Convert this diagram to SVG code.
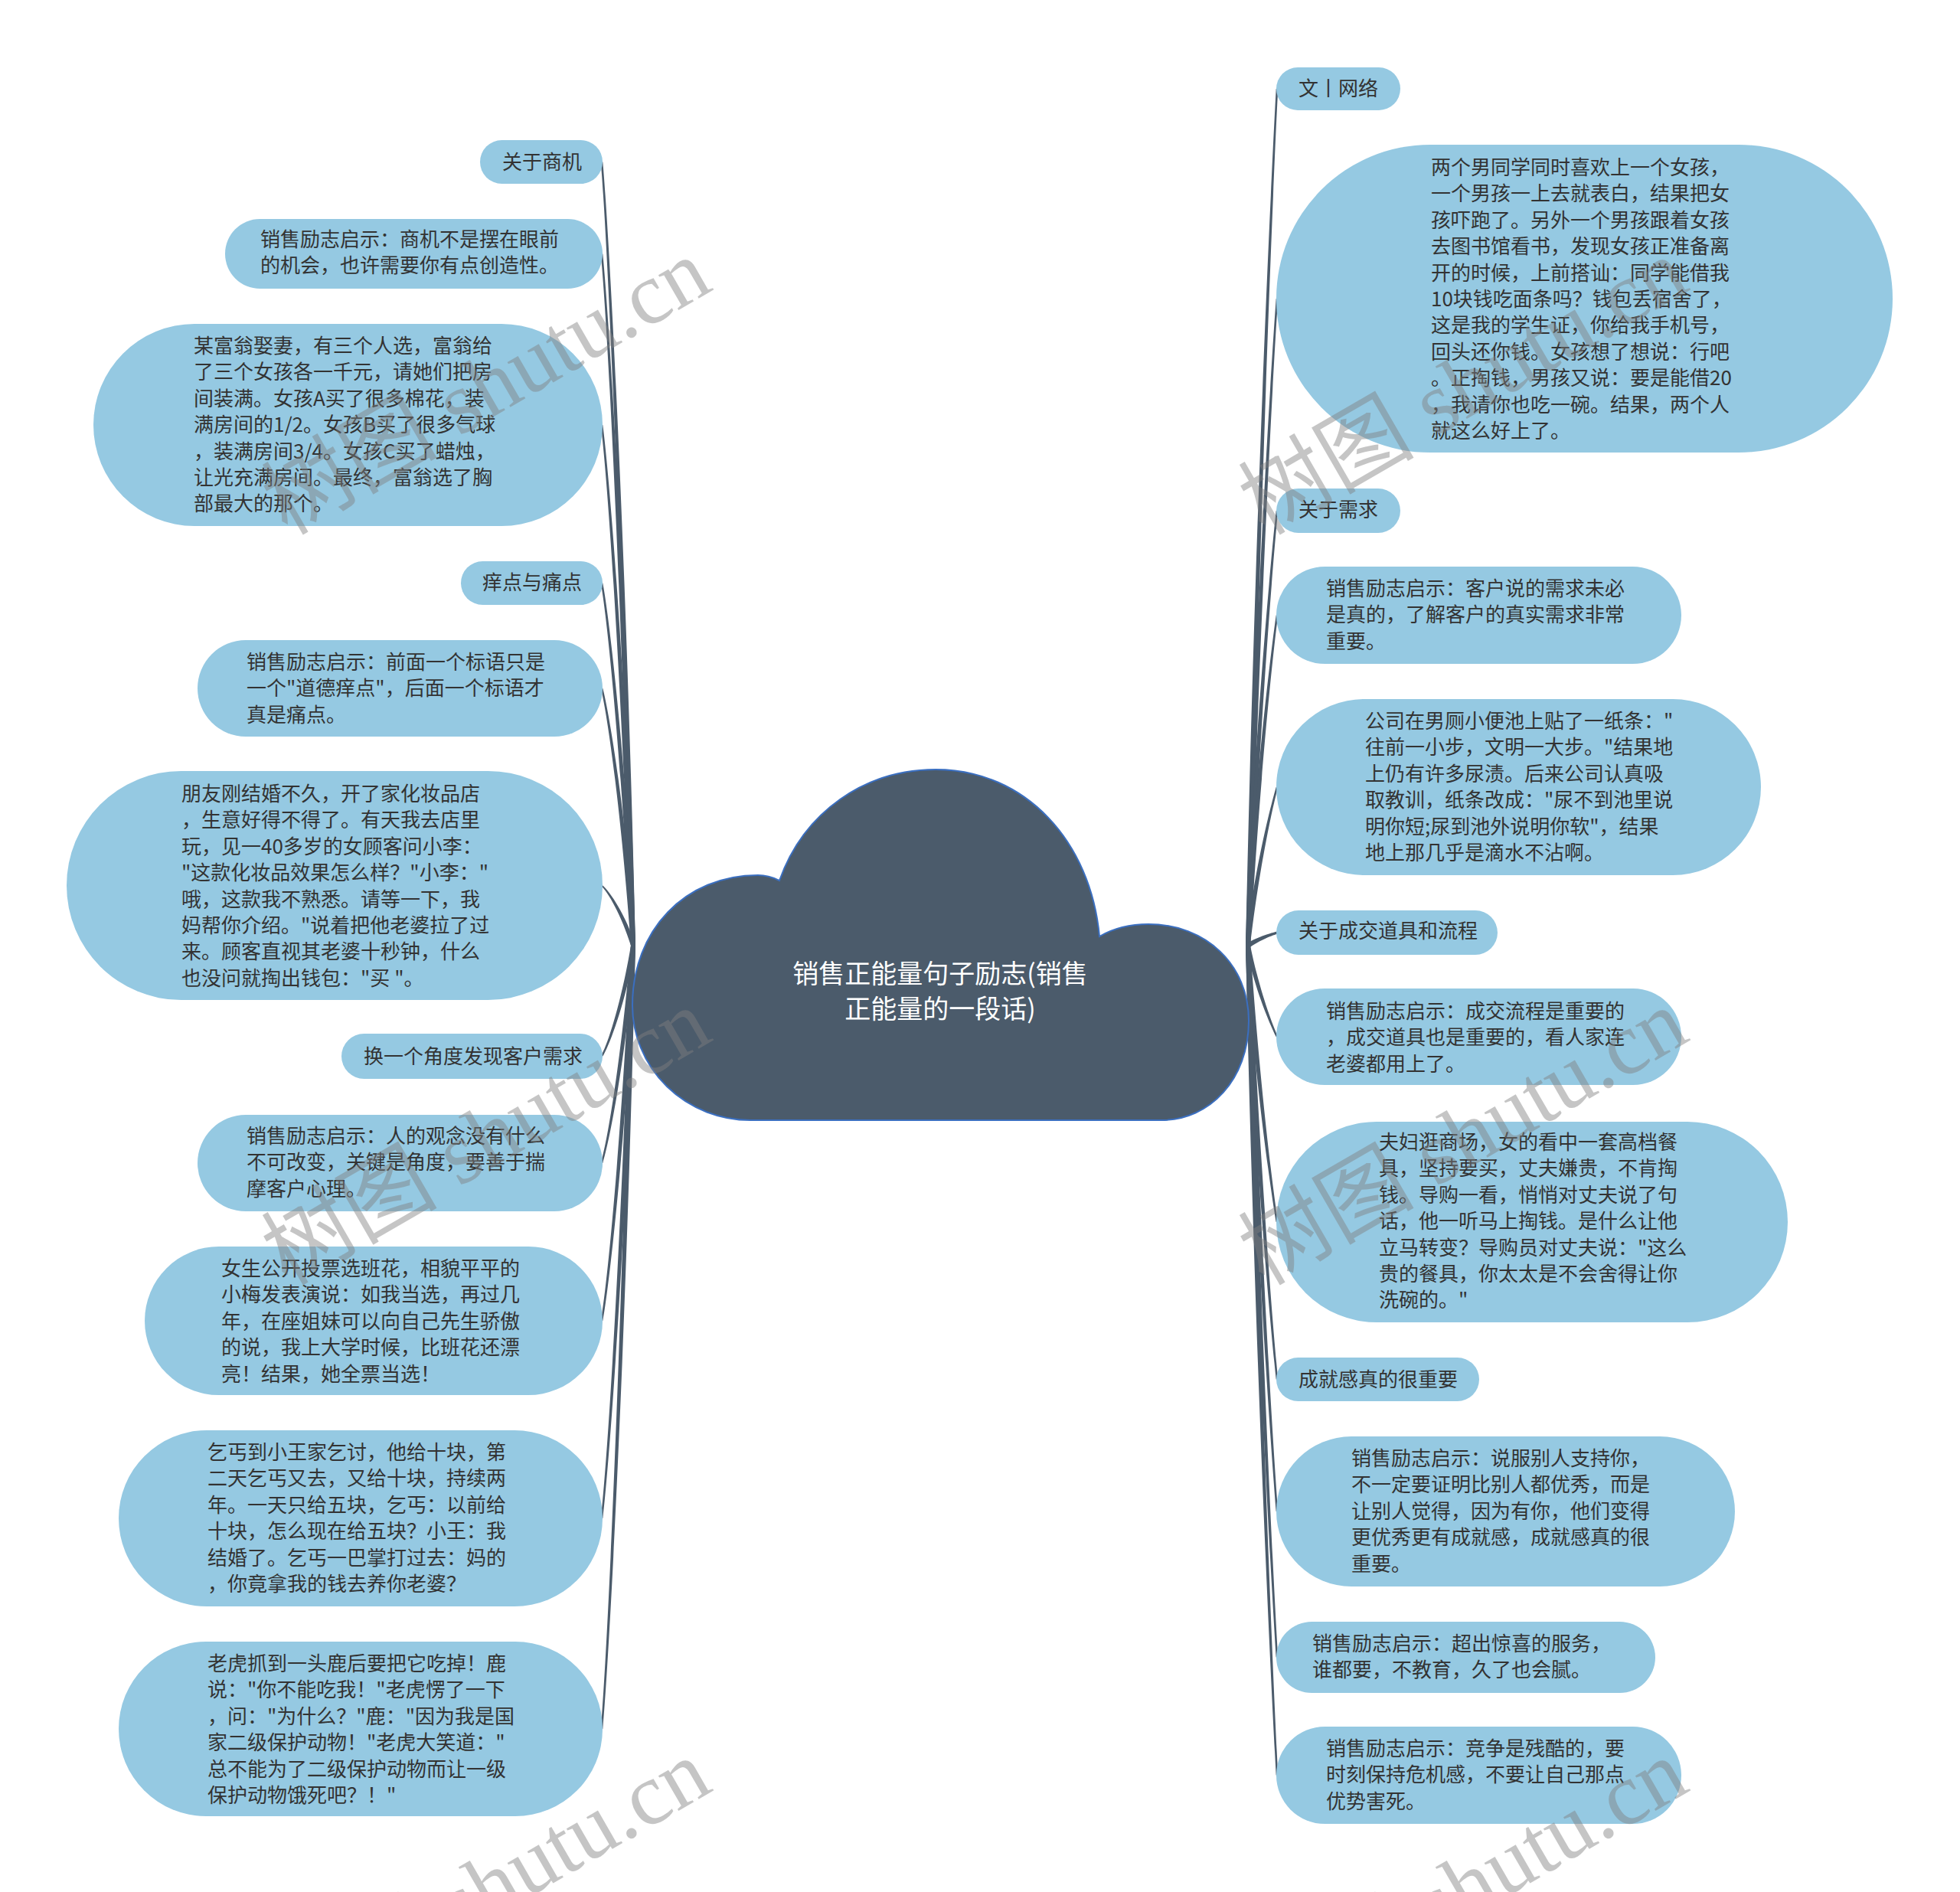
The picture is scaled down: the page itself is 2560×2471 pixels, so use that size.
<svg xmlns="http://www.w3.org/2000/svg" width="2560" height="2471" viewBox="0 0 2560 2471">
<style>
.node{fill:#95c9e2}
.t{font-family:"Noto Sans CJK SC","Microsoft YaHei",sans-serif;font-size:26px;fill:#333333}
.conn path{fill:#4b5b6b}
.ct{font-family:"Noto Sans CJK SC","Microsoft YaHei",sans-serif;font-size:34px;fill:#ffffff;text-anchor:middle}
.wm{font-family:"Liberation Serif","Noto Sans CJK SC",serif;font-size:115px;fill:#808080;opacity:0.45}
</style>
<rect width="2560" height="2471" fill="#ffffff"/>
<g class="conn" id="connectors">
<path d="M824,1235 C812,723 793.7,314 784.7,211.5 L787.3,211.5 C796.3,314 818,723 830,1235 Z"/>
<path d="M824,1235 C812,783 793.7,422 784.7,331.5 L787.3,331.5 C796.3,422 818,783 830,1235 Z"/>
<path d="M824,1235 C812,895 793.7,623 784.7,555 L787.3,555 C796.3,623 818,895 830,1235 Z"/>
<path d="M824,1235 C812,998 793.7,809 784.7,761.5 L787.3,761.5 C796.3,809 818,998 830,1235 Z"/>
<path d="M824,1235 C812,1067 793.7,933 784.7,899 L787.3,899 C796.3,933 818,1067 830,1235 Z"/>
<path d="M824,1235 C812,1196 793.7,1164 784.7,1156.5 L787.3,1156.5 C796.3,1164 818,1196 830,1235 Z"/>
<path d="M824,1235 C812,1307 793.7,1365 784.7,1379.5 L787.3,1379.5 C796.3,1365 818,1307 830,1235 Z"/>
<path d="M824,1235 C812,1377 793.7,1491 784.7,1519 L787.3,1519 C796.3,1491 818,1377 830,1235 Z"/>
<path d="M824,1235 C812,1480 793.7,1676 784.7,1725 L787.3,1725 C796.3,1676 818,1480 830,1235 Z"/>
<path d="M824,1235 C812,1609 793.7,1908 784.7,1983 L787.3,1983 C796.3,1908 818,1609 830,1235 Z"/>
<path d="M824,1235 C812,1746 793.7,2156 784.7,2258 L787.3,2258 C796.3,2156 818,1746 830,1235 Z"/>
<path d="M1633,1235 C1645,675 1663.3,228 1669.3,116 L1666.7,116 C1660.7,228 1639,675 1627,1235 Z"/>
<path d="M1633,1235 C1645,812 1663.3,474 1669.3,390 L1666.7,390 C1660.7,474 1639,812 1627,1235 Z"/>
<path d="M1633,1235 C1645,951 1663.3,724 1669.3,667 L1666.7,667 C1660.7,724 1639,951 1627,1235 Z"/>
<path d="M1633,1235 C1645,1019 1663.3,847 1669.3,803.5 L1666.7,803.5 C1660.7,847 1639,1019 1627,1235 Z"/>
<path d="M1633,1235 C1645,1131 1663.3,1049 1669.3,1028 L1666.7,1028 C1660.7,1049 1639,1131 1627,1235 Z"/>
<path d="M1633,1237 C1645,1228 1663.3,1221 1669.3,1219.5 L1668.7,1216.5 C1660.7,1218 1639,1225 1627,1233 Z"/>
<path d="M1633,1235 C1645,1294 1663.3,1342 1669.3,1354 L1666.7,1354 C1660.7,1342 1639,1294 1627,1235 Z"/>
<path d="M1633,1235 C1645,1415 1663.3,1560 1669.3,1596 L1666.7,1596 C1660.7,1560 1639,1415 1627,1235 Z"/>
<path d="M1633,1235 C1645,1518 1663.3,1745 1669.3,1801.5 L1666.7,1801.5 C1660.7,1745 1639,1518 1627,1235 Z"/>
<path d="M1633,1235 C1645,1604 1663.3,1900 1669.3,1974 L1666.7,1974 C1660.7,1900 1639,1604 1627,1235 Z"/>
<path d="M1633,1235 C1645,1700 1663.3,2071 1669.3,2164.5 L1666.7,2164.5 C1660.7,2071 1639,1700 1627,1235 Z"/>
<path d="M1633,1235 C1645,1777 1663.3,2210 1669.3,2318.5 L1666.7,2318.5 C1660.7,2210 1639,1777 1627,1235 Z"/>
</g>
<g id="root">
<path d="M980,1463 A154,150 0 0 1 826,1313 C826,1215 895,1143 990,1143 C1000,1143 1010,1146 1018,1150 C1050,1060 1130,1005 1222,1005 C1340,1005 1425,1100 1436,1223 C1455,1212 1478,1207 1500,1207 C1575,1207 1631,1260 1631,1333 C1631,1410 1580,1463 1517,1463 Z" fill="#4b5b6b" stroke="#3b6fc0" stroke-width="2"/>
<text class="ct" x="1228" y="1284">销售正能量句子励志(销售</text>
<text class="ct" x="1228" y="1330">正能量的一段话)</text>
</g>
<g id="n1"><rect class="node" x="627" y="183" width="160" height="57" rx="28.5"/><text class="t" x="656" y="221">关于商机</text></g>
<g id="n2"><rect class="node" x="294" y="286" width="493" height="91" rx="45.5"/><text class="t" x="340" y="322"><tspan x="340">销售励志启示：商机不是摆在眼前</tspan><tspan x="340" dy="34.4">的机会，也许需要你有点创造性。</tspan></text></g>
<g id="n3"><rect class="node" x="122" y="423" width="665" height="264" rx="132"/><text class="t" x="253" y="461"><tspan x="253">某富翁娶妻，有三个人选，富翁给</tspan><tspan x="253" dy="34.4">了三个女孩各一千元，请她们把房</tspan><tspan x="253" dy="34.4">间装满。女孩A买了很多棉花，装</tspan><tspan x="253" dy="34.4">满房间的1/2。女孩B买了很多气球</tspan><tspan x="253" dy="34.4">，装满房间3/4。女孩C买了蜡烛，</tspan><tspan x="253" dy="34.4">让光充满房间。最终，富翁选了胸</tspan><tspan x="253" dy="34.4">部最大的那个。</tspan></text></g>
<g id="n4"><rect class="node" x="602" y="733" width="185" height="57" rx="28.5"/><text class="t" x="630" y="770">痒点与痛点</text></g>
<g id="n5"><rect class="node" x="258" y="836" width="529" height="126" rx="63"/><text class="t" x="322" y="874"><tspan x="322">销售励志启示：前面一个标语只是</tspan><tspan x="322" dy="34.4">一个"道德痒点"，后面一个标语才</tspan><tspan x="322" dy="34.4">真是痛点。</tspan></text></g>
<g id="n6"><rect class="node" x="87" y="1007" width="700" height="299" rx="149.5"/><text class="t" x="237" y="1046"><tspan x="237">朋友刚结婚不久，开了家化妆品店</tspan><tspan x="237" dy="34.4">，生意好得不得了。有天我去店里</tspan><tspan x="237" dy="34.4">玩，见一40多岁的女顾客问小李：</tspan><tspan x="237" dy="34.4">"这款化妆品效果怎么样？"小李："</tspan><tspan x="237" dy="34.4">哦，这款我不熟悉。请等一下，我</tspan><tspan x="237" dy="34.4">妈帮你介绍。"说着把他老婆拉了过</tspan><tspan x="237" dy="34.4">来。顾客直视其老婆十秒钟，什么</tspan><tspan x="237" dy="34.4">也没问就掏出钱包："买 "。</tspan></text></g>
<g id="n7"><rect class="node" x="446" y="1350" width="341" height="59" rx="29.5"/><text class="t" x="475" y="1389">换一个角度发现客户需求</text></g>
<g id="n8"><rect class="node" x="258" y="1456" width="529" height="126" rx="63"/><text class="t" x="322" y="1493"><tspan x="322">销售励志启示：人的观念没有什么</tspan><tspan x="322" dy="34.4">不可改变，关键是角度，要善于揣</tspan><tspan x="322" dy="34.4">摩客户心理。</tspan></text></g>
<g id="n9"><rect class="node" x="189" y="1628" width="598" height="194" rx="97"/><text class="t" x="289" y="1666"><tspan x="289">女生公开投票选班花，相貌平平的</tspan><tspan x="289" dy="34.4">小梅发表演说：如我当选，再过几</tspan><tspan x="289" dy="34.4">年，在座姐妹可以向自己先生骄傲</tspan><tspan x="289" dy="34.4">的说，我上大学时候，比班花还漂</tspan><tspan x="289" dy="34.4">亮！结果，她全票当选！</tspan></text></g>
<g id="n10"><rect class="node" x="155" y="1868" width="632" height="230" rx="115"/><text class="t" x="271" y="1906"><tspan x="271">乞丐到小王家乞讨，他给十块，第</tspan><tspan x="271" dy="34.4">二天乞丐又去，又给十块，持续两</tspan><tspan x="271" dy="34.4">年。一天只给五块，乞丐：以前给</tspan><tspan x="271" dy="34.4">十块，怎么现在给五块？小王：我</tspan><tspan x="271" dy="34.4">结婚了。乞丐一巴掌打过去：妈的</tspan><tspan x="271" dy="34.4">，你竟拿我的钱去养你老婆？</tspan></text></g>
<g id="n11"><rect class="node" x="155" y="2144" width="632" height="228" rx="114"/><text class="t" x="271" y="2182"><tspan x="271">老虎抓到一头鹿后要把它吃掉！鹿</tspan><tspan x="271" dy="34.4">说："你不能吃我！"老虎愣了一下</tspan><tspan x="271" dy="34.4">，问："为什么？"鹿："因为我是国</tspan><tspan x="271" dy="34.4">家二级保护动物！"老虎大笑道："</tspan><tspan x="271" dy="34.4">总不能为了二级保护动物而让一级</tspan><tspan x="271" dy="34.4">保护动物饿死吧？！"</tspan></text></g>
<g id="r1"><rect class="node" x="1667" y="88" width="162" height="56" rx="28"/><text class="t" x="1696" y="125">文丨网络</text></g>
<g id="r2"><rect class="node" x="1667" y="189" width="805" height="402" rx="201"/><text class="t" x="1869" y="228"><tspan x="1869">两个男同学同时喜欢上一个女孩，</tspan><tspan x="1869" dy="34.4">一个男孩一上去就表白，结果把女</tspan><tspan x="1869" dy="34.4">孩吓跑了。另外一个男孩跟着女孩</tspan><tspan x="1869" dy="34.4">去图书馆看书，发现女孩正准备离</tspan><tspan x="1869" dy="34.4">开的时候，上前搭讪：同学能借我</tspan><tspan x="1869" dy="34.4">10块钱吃面条吗？钱包丢宿舍了，</tspan><tspan x="1869" dy="34.4">这是我的学生证，你给我手机号，</tspan><tspan x="1869" dy="34.4">回头还你钱。女孩想了想说：行吧</tspan><tspan x="1869" dy="34.4">。正掏钱，男孩又说：要是能借20</tspan><tspan x="1869" dy="34.4">，我请你也吃一碗。结果，两个人</tspan><tspan x="1869" dy="34.4">就这么好上了。</tspan></text></g>
<g id="r3"><rect class="node" x="1667" y="638" width="162" height="58" rx="29"/><text class="t" x="1696" y="675">关于需求</text></g>
<g id="r4"><rect class="node" x="1667" y="740" width="529" height="127" rx="63.5"/><text class="t" x="1732" y="778"><tspan x="1732">销售励志启示：客户说的需求未必</tspan><tspan x="1732" dy="34.4">是真的，了解客户的真实需求非常</tspan><tspan x="1732" dy="34.4">重要。</tspan></text></g>
<g id="r5"><rect class="node" x="1667" y="913" width="633" height="230" rx="115"/><text class="t" x="1783" y="951"><tspan x="1783">公司在男厕小便池上贴了一纸条："</tspan><tspan x="1783" dy="34.4">往前一小步，文明一大步。"结果地</tspan><tspan x="1783" dy="34.4">上仍有许多尿渍。后来公司认真吸</tspan><tspan x="1783" dy="34.4">取教训，纸条改成："尿不到池里说</tspan><tspan x="1783" dy="34.4">明你短;尿到池外说明你软"，结果</tspan><tspan x="1783" dy="34.4">地上那几乎是滴水不沾啊。</tspan></text></g>
<g id="r6"><rect class="node" x="1667" y="1189" width="289" height="58" rx="29"/><text class="t" x="1696" y="1225">关于成交道具和流程</text></g>
<g id="r7"><rect class="node" x="1667" y="1291" width="529" height="126" rx="63"/><text class="t" x="1732" y="1330"><tspan x="1732">销售励志启示：成交流程是重要的</tspan><tspan x="1732" dy="34.4">，成交道具也是重要的，看人家连</tspan><tspan x="1732" dy="34.4">老婆都用上了。</tspan></text></g>
<g id="r8"><rect class="node" x="1667" y="1465" width="668" height="262" rx="131"/><text class="t" x="1801" y="1501"><tspan x="1801">夫妇逛商场，女的看中一套高档餐</tspan><tspan x="1801" dy="34.4">具，坚持要买，丈夫嫌贵，不肯掏</tspan><tspan x="1801" dy="34.4">钱。导购一看，悄悄对丈夫说了句</tspan><tspan x="1801" dy="34.4">话，他一听马上掏钱。是什么让他</tspan><tspan x="1801" dy="34.4">立马转变？导购员对丈夫说："这么</tspan><tspan x="1801" dy="34.4">贵的餐具，你太太是不会舍得让你</tspan><tspan x="1801" dy="34.4">洗碗的。"</tspan></text></g>
<g id="r9"><rect class="node" x="1667" y="1773" width="265" height="57" rx="28.5"/><text class="t" x="1696" y="1811">成就感真的很重要</text></g>
<g id="r10"><rect class="node" x="1667" y="1876" width="599" height="196" rx="98"/><text class="t" x="1765" y="1914"><tspan x="1765">销售励志启示：说服别人支持你，</tspan><tspan x="1765" dy="34.4">不一定要证明比别人都优秀，而是</tspan><tspan x="1765" dy="34.4">让别人觉得，因为有你，他们变得</tspan><tspan x="1765" dy="34.4">更优秀更有成就感，成就感真的很</tspan><tspan x="1765" dy="34.4">重要。</tspan></text></g>
<g id="r11"><rect class="node" x="1667" y="2118" width="495" height="93" rx="46.5"/><text class="t" x="1714" y="2156"><tspan x="1714">销售励志启示：超出惊喜的服务，</tspan><tspan x="1714" dy="34.4">谁都要，不教育，久了也会腻。</tspan></text></g>
<g id="r12"><rect class="node" x="1667" y="2255" width="529" height="127" rx="63.5"/><text class="t" x="1732" y="2293"><tspan x="1732">销售励志启示：竞争是残酷的，要</tspan><tspan x="1732" dy="34.4">时刻保持危机感，不要让自己那点</tspan><tspan x="1732" dy="34.4">优势害死。</tspan></text></g>
<g id="watermarks">
<text class="wm" x="375" y="700" transform="rotate(-30 375 700)">树图 shutu.cn</text>
<text class="wm" x="375" y="1680" transform="rotate(-30 375 1680)">树图 shutu.cn</text>
<text class="wm" x="375" y="2660" transform="rotate(-30 375 2660)">树图 shutu.cn</text>
<text class="wm" x="1651" y="700" transform="rotate(-30 1651 700)">树图 shutu.cn</text>
<text class="wm" x="1651" y="1680" transform="rotate(-30 1651 1680)">树图 shutu.cn</text>
<text class="wm" x="1651" y="2660" transform="rotate(-30 1651 2660)">树图 shutu.cn</text>
</g>
</svg>
